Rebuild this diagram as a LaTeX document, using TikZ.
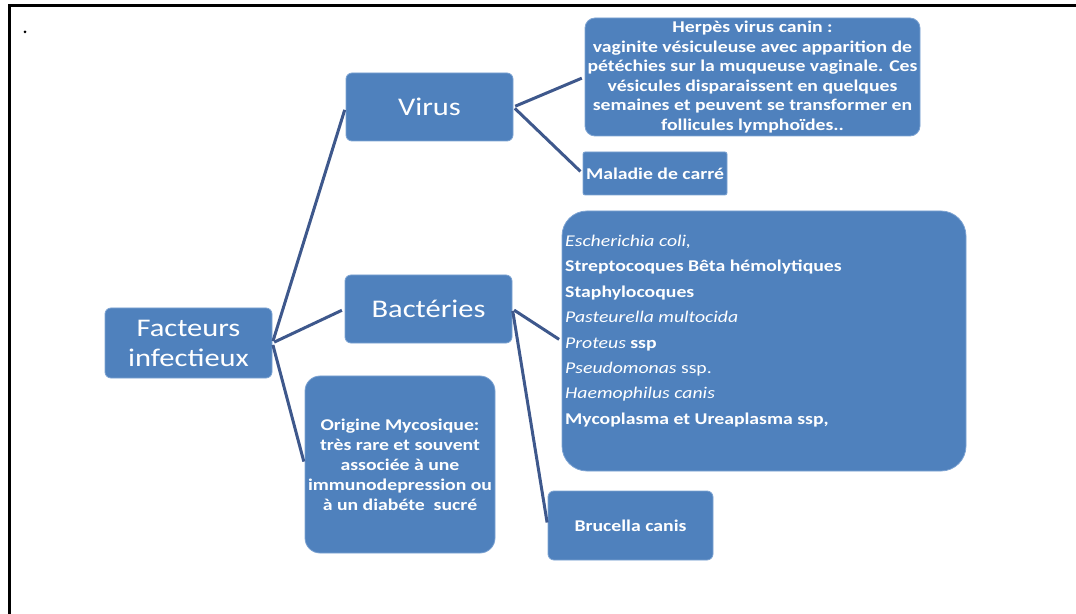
\documentclass[tikz,border=0pt]{standalone}
\usepackage{fontspec}
\setmainfont{Carlito}[FakeStretch=1.2]
\definecolor{boxblue}{RGB}{79,129,189}
\definecolor{boxedge}{RGB}{125,163,210}
\definecolor{linkblue}{RGB}{62,88,140}
\begin{document}
\begin{tikzpicture}[x=1bp,y=-1bp,
  box/.style={fill=boxblue, draw=boxedge, line width=0.8bp, text=white,
    inner sep=0pt, align=center, rounded corners=6bp},
  bigtext/.style={font=\fontsize{25.5}{30}\selectfont},
  smalltext/.style={font=\bfseries\fontsize{16.5}{19.6}\selectfont},
  link/.style={draw=linkblue, line width=3bp, shorten <=2bp, shorten >=3bp}]
\useasboundingbox (0,0) rectangle (1076,614);

% page frame and bullet
\draw[line width=3bp] (9,614) -- (9,6) -- (1076,6);
\fill (25,32) circle (1.5bp);

% root and main branches
\node[box, bigtext, minimum width=167bp, minimum height=70bp] (fact) at (188.5,343)
  {Facteurs\\infectieux};
\node[box, bigtext, minimum width=167bp, minimum height=68bp] (virus) at (429.5,107) {Virus};
\node[box, bigtext, minimum width=167bp, minimum height=68bp] (bact) at (428.5,309) {Bactéries};
\node[box, smalltext, font=\bfseries\fontsize{16.5}{20}\selectfont, rounded corners=15bp,
  minimum width=190bp, minimum height=177bp] (myco) at (400,464.5)
  {Origine Mycosique:\\très rare et souvent\\associée à une\\immunodepression ou\\à un diabéte\ \ sucré};

% virus leaves
\node[box, smalltext, rounded corners=10bp, minimum width=335bp, minimum height=118bp]
  (herpes) at (752.5,77)
  {Herpès virus canin :\\vaginite vésiculeuse avec apparition de\\pétéchies sur la muqueuse vaginale. Ces\\vésicules disparaissent en quelques\\semaines et peuvent se transformer en\\follicules lymphoïdes..};
\node[box, smalltext, rounded corners=2bp, minimum width=144bp, minimum height=43bp]
  (carre) at (655,173.5) {Maladie de carré};

% bacteria leaves
\node[box, rounded corners=25bp, minimum width=404bp, minimum height=260bp]
  (list) at (764,341) {};
\node[text=white, inner sep=0pt, align=left, anchor=west,
  font=\fontsize{16.5}{25.5}\selectfont] (listtext) at (565,331)
  {\itshape Escherichia coli,\\
   \bfseries Streptocoques Bêta hémolytiques\\
   \bfseries Staphylocoques\\
   \itshape Pasteurella multocida\\
   {\itshape Proteus} \bfseries ssp\\
   {\itshape Pseudomonas} ssp.\\
   \itshape Haemophilus canis\\
   \bfseries Mycoplasma et Ureaplasma ssp,};
\node[box, smalltext, minimum width=165bp, minimum height=69bp]
  (brucella) at (630.5,525.5) {Brucella canis};

% connectors
\draw[link] (fact.east) -- (virus.west);
\draw[link] (fact.east) -- (bact.west);
\draw[link] (fact.east) -- (myco.west);
\draw[link] (virus.east) -- (herpes.west);
\draw[link] (virus.east) -- (carre.west);
\draw[link] (bact.east) -- (list.west);
\draw[link] (bact.east) -- (brucella.west);
\end{tikzpicture}
\end{document}
